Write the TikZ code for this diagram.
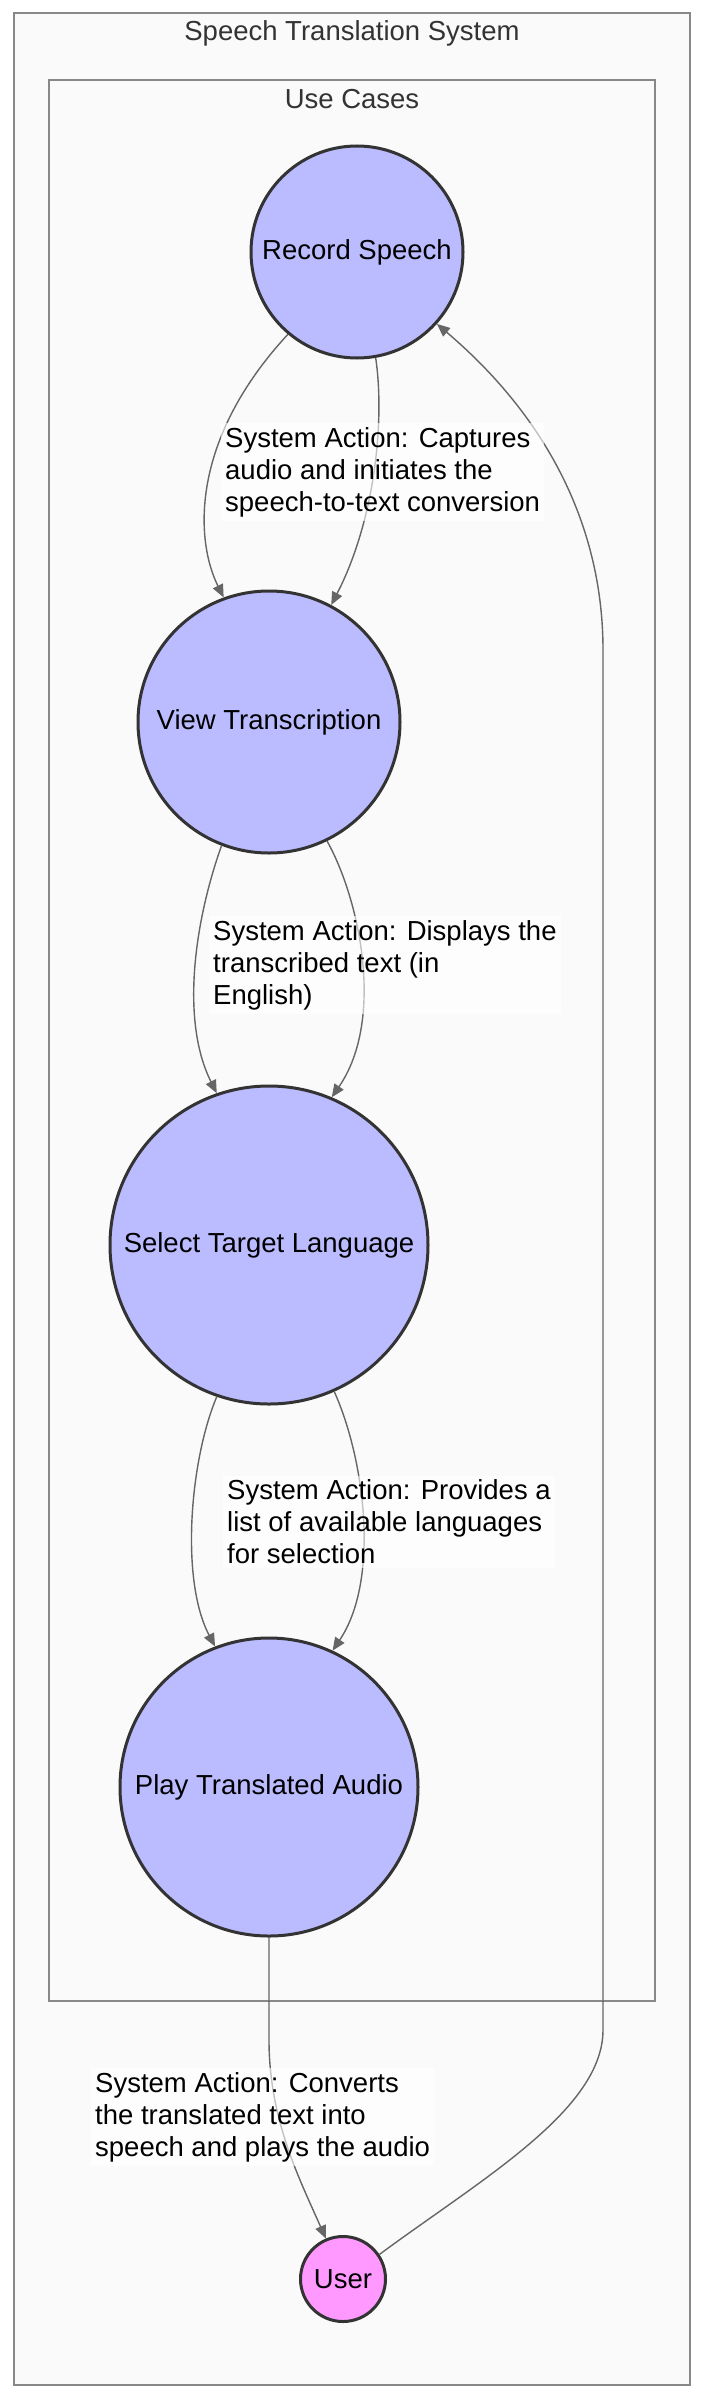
\documentclass[tikz,border=0pt]{standalone}
\usepackage{fontspec}
\setmainfont{Liberation Sans}
\usetikzlibrary{arrows.meta}
\definecolor{nodefill}{HTML}{BBBBFF}
\definecolor{userfill}{HTML}{FF99FF}
\definecolor{nodeline}{HTML}{333333}
\definecolor{edgecol}{HTML}{666666}
\definecolor{clusterfill}{HTML}{FAFAFA}
\definecolor{clusterline}{HTML}{888888}
\definecolor{titlecol}{HTML}{333333}
\begin{document}
\begin{tikzpicture}[x=1pt,y=-1pt,
  bigfont/.style={font=\fontsize{27.5}{32}\selectfont},
  usecase/.style={circle, draw=nodeline, line width=3pt, fill=nodefill, inner sep=0pt, text=black, bigfont},
  actor/.style={circle, draw=nodeline, line width=3pt, fill=userfill, inner sep=0pt, text=black, bigfont},
  cluster/.style={draw=clusterline, line width=1.5pt, fill=clusterfill},
  ctitle/.style={text=titlecol, bigfont, inner sep=0pt},
  edge/.style={draw=edgecol, line width=1.4pt, -{Triangle[length=13pt,width=11pt]}},
  elabel/.style={fill=white, fill opacity=0.6, text opacity=1, text=black, align=left, inner sep=4pt, anchor=west, bigfont}
]
\useasboundingbox (0,0) rectangle (704,2400);
% clusters
\draw[cluster] (14,13) rectangle (690,2385);
\node[ctitle] (systitle) at (352,33) {Speech Translation System};
\draw[cluster] (49,80) rectangle (655,2001);
\node[ctitle] (uctitle) at (352,99) {Use Cases};
% nodes
\node[usecase, minimum size=212pt] (rs) at (357,252) {Record Speech};
\node[usecase, minimum size=262pt] (vt) at (269,722) {View Transcription};
\node[usecase, minimum size=318pt] (stl) at (269,1245) {Select Target Language};
\node[usecase, minimum size=298pt] (pta) at (269,1787) {Play Translated Audio};
\node[actor, minimum size=85pt] (user) at (343,2279) {User};
\coordinate (e4a) at (269,2040);
\coordinate (e5a) at (603,2030);
\coordinate (e5b) at (603,650);
% edges
\draw[edge] (rs.230) .. controls (190,440) and (195,540) .. (vt.110);
\draw[edge] (rs.280) .. controls (385,420) and (375,520) .. (vt.62);
\draw[edge] (vt.249) .. controls (195,920) and (180,1020) .. (stl.109);
\draw[edge] (vt.296) .. controls (360,900) and (385,1020) .. (stl.67);
\draw[edge] (stl.251) .. controls (190,1460) and (180,1580) .. (pta.111);
\draw[edge] (stl.294) .. controls (365,1460) and (380,1580) .. (pta.65);
\draw[edge] (pta.south) -- (e4a) .. controls (269,2120) and (300,2180) .. (user.113);
\draw[edge] (user.34) .. controls (480,2180) and (603,2110) .. (e5a) -- (e5b) .. controls (603,530) and (550,420) .. (rs.318);
% edge labels
\node[elabel] (l1) at (221,472) {System Action: Captures\\audio and initiates the\\speech-to-text conversion};
\node[elabel] (l2) at (209,965) {System Action: Displays the\\transcribed text (in\\English)};
\node[elabel] (l3) at (223,1522) {System Action: Provides a\\list of available languages\\for selection};
\node[elabel] (l4) at (91,2117) {System Action: Converts\\the translated text into\\speech and plays the audio};
\end{tikzpicture}
\end{document}
